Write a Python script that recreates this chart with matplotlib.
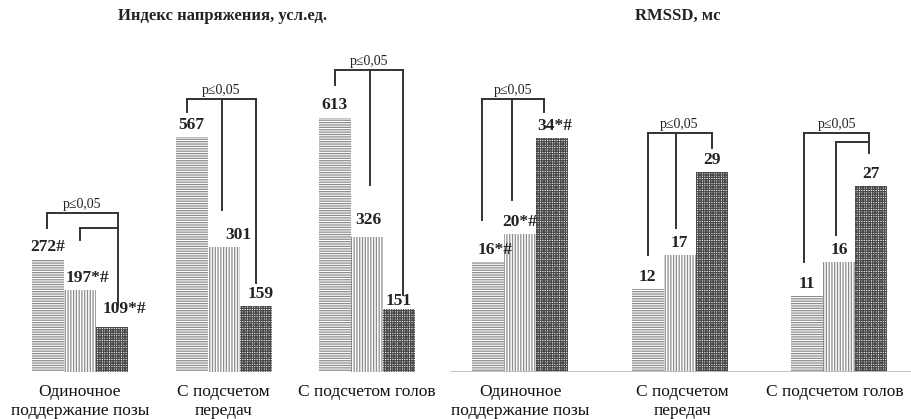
import matplotlib.pyplot as plt
import numpy as np

plt.rcParams['font.family'] = ['Liberation Serif', 'DejaVu Serif']
plt.rcParams['hatch.linewidth'] = 0.9

groups = ['Одиночное\nподдержание позы', 'С подсчетом\nпередач', 'С подсчетом голов']
stress_index = [[272, 197, 109], [567, 301, 159], [613, 326, 151]]
stress_labels = [['272#', '197*#', '109*#'], ['567', '301', '159'], ['613', '326', '151']]
rmssd = [[16, 20, 34], [12, 17, 29], [11, 16, 27]]
rmssd_labels = [['16*#', '20*#', '34*#'], ['12', '17', '29'], ['11', '16', '27']]

hatches = ['-------', '||||||', '+++++++']
hatch_colors = ['#8c8c8c', '#8c8c8c', '#4a4a4a']

fig = plt.figure(figsize=(9.11, 4.19), dpi=100)


def draw_panel(ax, values, labels, width, label_shift, brackets, title, title_x, cat_x):
    for g, vals in enumerate(values):
        for i, v in enumerate(vals):
            x = g + (i - 1) * width
            ax.bar(x, v, width=width, facecolor='white', edgecolor=hatch_colors[i],
                   hatch=hatches[i], linewidth=0)
            dx, dy = label_shift[g][i]
            ax.annotate(labels[g][i], (x, v), xytext=(dx, 3 + dy), textcoords='offset points',
                        ha='center', va='bottom', fontsize=12.5, fontweight='bold', color='#222222')
    # significance brackets: (group, top, [(bar, leg_end, dx)], inner)
    for g, top, legs, inner in brackets:
        xs = [g + (b - 1) * width + dx for b, _, dx in legs]
        ax.plot([xs[0], xs[-1]], [top, top], color='#333333', lw=1.4)
        for x, (b, end, dx) in zip(xs, legs):
            ax.plot([x, x], [top, end], color='#333333', lw=1.4)
        if inner is not None:
            itop, (b, end, dx) = inner
            xi = g + (b - 1) * width + dx
            ax.plot([xi, xs[-1]], [itop, itop], color='#333333', lw=1.4)
            ax.plot([xi, xi], [itop, end], color='#333333', lw=1.4)
        ax.annotate('p≤0,05', ((xs[0] + xs[-1]) / 2, top), xytext=(0, 1.5),
                    textcoords='offset points', ha='center', va='bottom', fontsize=10,
                    color='#222222')
    for g, name in enumerate(groups):
        ax.text(g + cat_x[g], -0.035, name, transform=ax.get_xaxis_transform(),
                ha='center', va='top', fontsize=12.5, linespacing=1.25, color='#111111')
    ax.set_xticks([])
    ax.set_yticks([])
    for s in ax.spines.values():
        s.set_visible(False)
    fig.text(title_x, 0.962, title, ha='center', va='center', fontsize=12,
             fontweight='bold', color='#222222')


# left panel: index of tension
ax1 = fig.add_axes([0, 47 / 419, 450 / 911, 342 / 419])
ax1.set_xlim(-80 / 143.5, 370 / 143.5)
ax1.set_ylim(0, 342 / 0.415)
w1 = 32 / 143.5
br1 = [
    (0, 383, [(0, 347, -0.01), (2, 161, 0.04)], (347, (1, 318, 0.0))),
    (1, 658, [(0, 627, -0.03), (1, 390, -0.01), (2, 214, 0.0)], None),
    (2, 728, [(0, 692, 0.0), (1, 451, 0.02), (2, 186, 0.03)], None),
]
shift1 = [[(0, 0), (5, 0), (9, 4)], [(0, 0), (11, 0), (4, 0)], [(0, 0), (1, 3), (0, -3)]]
draw_panel(ax1, stress_index, stress_labels, w1, shift1, br1,
           'Индекс напряжения, усл.ед.', 223 / 911, [0.0, 0.0, 0.0])

# right panel: RMSSD
ax2 = fig.add_axes([450 / 911, 47 / 419, 461 / 911, 342 / 419])
ax2.set_xlim(-70 / 159.5, 391 / 159.5)
ax2.set_ylim(0, 342 / 6.88)
w2 = 32 / 159.5
br2 = [
    (0, 39.7, [(0, 22.1, -0.04), (1, 25.0, -0.05), (2, 37.8, -0.05)], None),
    (1, 34.7, [(0, 17.0, 0.0), (1, 20.9, -0.02), (2, 32.6, 0.0)], None),
    (2, 34.7, [(0, 16.0, -0.02), (2, 31.8, -0.01)], (33.4, (1, 19.9, -0.02))),
]
shift2 = [[(5, 0), (0, 0), (2, 0)], [(0, 0), (0, 0), (0, 0)], [(0, 0), (0, 0), (0, 0)]]
draw_panel(ax2, rmssd, rmssd_labels, w2, shift2, br2, 'RMSSD, мс', 678 / 911, [0.0, 0.02, -0.025])
ax2.axhline(0, color='#bbbbbb', lw=1.2)

fig.savefig('out.png', dpi=100)
